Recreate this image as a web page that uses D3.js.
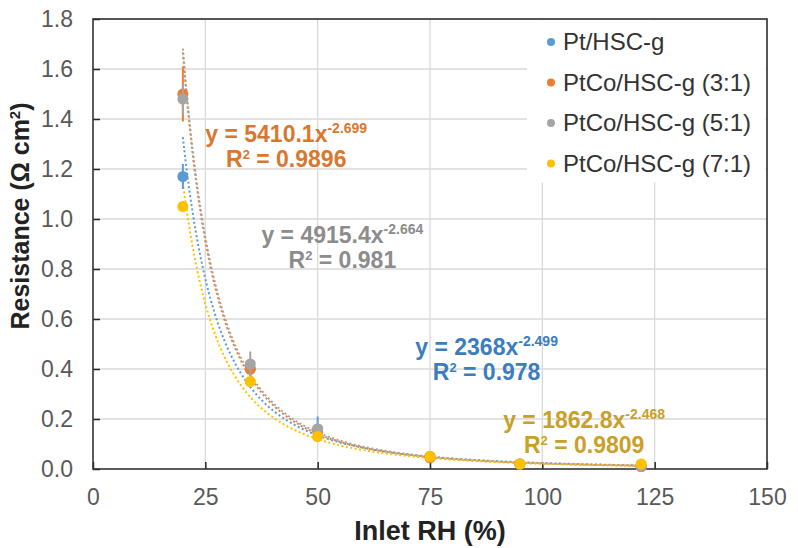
<!DOCTYPE html>
<html>
<head>
<meta charset="utf-8">
<script src="https://cdn.jsdelivr.net/npm/d3@7"></script>
<style>
  body { margin: 0; background: #fff; }
  svg { display: block; font-family: Arial, "Liberation Sans", sans-serif; }
</style>
</head>
<body>
<div id="graphic"></div>
<script>
// x values (inlet RH %) shared by all series
var xValues = [20, 35, 50, 75, 95, 122];

var seriesNames = ["Pt/HSC-g", "PtCo/HSC-g (3:1)", "PtCo/HSC-g (5:1)", "PtCo/HSC-g (7:1)"];
var ptValues   = [1.17, 0.40, 0.16, 0.05, 0.02, 0.01];
var ptErrors   = [0.05, 0.03, 0.05, 0.01, 0.005, 0.005];
var pt31Values = [1.50, 0.40, 0.15, 0.045, 0.02, 0.01];
var pt31Errors = [0.11, 0.03, 0.02, 0.01, 0.005, 0.005];
var pt51Values = [1.48, 0.42, 0.16, 0.05, 0.02, 0.01];
var pt51Errors = [0.06, 0.05, 0.03, 0.01, 0.005, 0.005];
var pt71Values = [1.05, 0.35, 0.13, 0.05, 0.02, 0.02];
var pt71Errors = [0.02, 0.02, 0.02, 0.01, 0.005, 0.005];

// power trendlines y = a * x^b as printed on the chart
var fitCoef = ["2368", "5410.1", "4915.4", "1862.8"];
var fitExp  = ["-2.499", "-2.699", "-2.664", "-2.468"];
var fitR2   = ["0.978", "0.9896", "0.981", "0.9809"];

var xTicks = [0, 25, 50, 75, 100, 125, 150];
var yTicks = [0, 0.2, 0.4, 0.6, 0.8, 1.0, 1.2, 1.4, 1.6, 1.8];

var colors = ["#5B9BD5", "#ED7D31", "#A5A5A5", "#FFC000"];
var labelColors = ["#3B7DBD", "#D9772F", "#8C8C8C", "#C9A028"];
// label anchor (data coords) for each trendline equation
var labelAt = [[87.6, 0.456], [43, 1.31], [55.5, 0.904], [109.3, 0.164]];

var values = [ptValues, pt31Values, pt51Values, pt71Values];
var errors = [ptErrors, pt31Errors, pt51Errors, pt71Errors];

var W = 798, H = 548;
var svg = d3.select("#graphic").append("svg").attr("width", W).attr("height", H);

var x = d3.scaleLinear().domain([0, 150]).range([93, 767]);
var y = d3.scaleLinear().domain([0, 1.8]).range([469, 19]);

// gridlines
var grid = svg.append("g");
grid.selectAll(".gy").data(yTicks.slice(1)).enter().append("line")
  .attr("x1", x(0)).attr("x2", x(150))
  .attr("y1", function(d){ return y(d); }).attr("y2", function(d){ return y(d); })
  .attr("stroke", "#d9d9d9").attr("stroke-width", 1.3);
grid.selectAll(".gx").data(xTicks.slice(1)).enter().append("line")
  .attr("y1", y(0)).attr("y2", y(1.8))
  .attr("x1", function(d){ return x(d); }).attr("x2", function(d){ return x(d); })
  .attr("stroke", "#d9d9d9").attr("stroke-width", 1.3);

// axes
var xAxis = d3.axisBottom(x).tickValues(xTicks).tickSize(-7).tickPadding(20).tickFormat(d3.format("d"));
var yAxis = d3.axisLeft(y).tickValues(yTicks).tickSize(-7).tickPadding(20).tickFormat(d3.format(".1f"));

var gx = svg.append("g").attr("transform", "translate(0," + y(0) + ")").call(xAxis);
var gy = svg.append("g").attr("transform", "translate(" + x(0) + ",0)").call(yAxis);
[gx, gy].forEach(function(g){
  g.select(".domain").remove();
  g.selectAll(".tick line").attr("stroke", "#262626").attr("stroke-width", 1.5);
  g.selectAll(".tick text").attr("font-size", 23).attr("fill", "#595959");
});

// plot border
svg.append("rect")
  .attr("x", x(0)).attr("y", y(1.8))
  .attr("width", x(150) - x(0)).attr("height", y(0) - y(1.8))
  .attr("fill", "none").attr("stroke", "#333").attr("stroke-width", 1.6);

// legend background covers gridlines
var legend = svg.append("g");
legend.append("rect").attr("x", 527).attr("y", y(1.8) + 1.5).attr("width", x(150) - 527 - 1.5).attr("height", 162)
  .attr("fill", "#fff");

// trendlines
var line = d3.line().x(function(d){ return x(d[0]); }).y(function(d){ return y(d[1]); });
seriesNames.forEach(function(name, i){
  var a = +fitCoef[i], b = +fitExp[i];
  var pts = d3.range(xValues[0], xValues[xValues.length - 1] + 0.01, 0.5).map(function(v){ return [v, a * Math.pow(v, b)]; });
  svg.append("path").datum(pts).attr("d", line)
    .attr("fill", "none").attr("stroke", colors[i]).attr("stroke-width", 2)
    .attr("stroke-dasharray", "2,2.5");
});

// error bars + points
seriesNames.forEach(function(name, i){
  var g = svg.append("g");
  var rows = xValues.map(function(v, j){ return {x: v, y: values[i][j], e: errors[i][j]}; });
  g.selectAll("line.eb").data(rows).enter().append("line")
    .attr("x1", function(d){ return x(d.x); }).attr("x2", function(d){ return x(d.x); })
    .attr("y1", function(d){ return y(d.y - d.e); }).attr("y2", function(d){ return y(d.y + d.e); })
    .attr("stroke", colors[i]).attr("stroke-width", 2);
  g.selectAll("circle").data(rows).enter().append("circle")
    .attr("cx", function(d){ return x(d.x); }).attr("cy", function(d){ return y(d.y); })
    .attr("r", 5.5).attr("fill", colors[i]);
});

// trendline equations
seriesNames.forEach(function(name, i){
  var px = x(labelAt[i][0]), py = y(labelAt[i][1]);
  var t1 = svg.append("text").attr("x", px).attr("y", py).attr("text-anchor", "middle")
    .attr("font-size", 23).attr("font-weight", "bold").attr("fill", labelColors[i]);
  t1.append("tspan").text("y = " + fitCoef[i] + "x");
  t1.append("tspan").attr("dy", -9).attr("font-size", 14).text(fitExp[i]);
  var t2 = svg.append("text").attr("x", px).attr("y", py + 25).attr("text-anchor", "middle")
    .attr("font-size", 23).attr("font-weight", "bold").attr("fill", labelColors[i]);
  t2.append("tspan").text("R");
  t2.append("tspan").attr("dy", -8).attr("font-size", 13).text("2");
  t2.append("tspan").attr("dy", 8).text(" = " + fitR2[i]);
});

// legend entries
seriesNames.forEach(function(name, i){
  var ly = 42 + i * 40.5;
  legend.append("circle").attr("cx", 551).attr("cy", ly).attr("r", 4).attr("fill", colors[i]);
  legend.append("text").attr("x", 563).attr("y", ly + 8).attr("font-size", 24)
    .attr("fill", "#333").text(name);
});

// axis titles
svg.append("text").attr("x", (x(0) + x(150)) / 2).attr("y", 540).attr("text-anchor", "middle")
  .attr("font-size", 27).attr("font-weight", "bold").attr("fill", "#222").text("Inlet RH (%)");
svg.append("text").attr("transform", "translate(29," + 216 + ") rotate(-90)").attr("text-anchor", "middle")
  .attr("font-size", 25).attr("font-weight", "bold").attr("fill", "#222")
  .call(function(t){
    t.append("tspan").text("Resistance (Ω cm");
    t.append("tspan").attr("dy", -9).attr("font-size", 15).text("2");
    t.append("tspan").attr("dy", 9).text(")");
  });
</script>
</body>
</html>
